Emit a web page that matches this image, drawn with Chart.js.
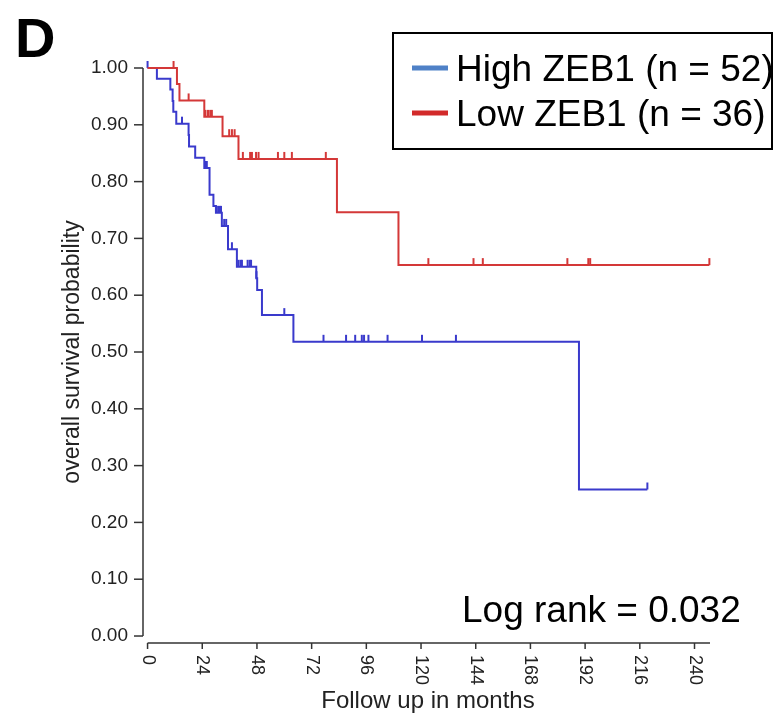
<!DOCTYPE html>
<html>
<head>
<meta charset="utf-8">
<script src="https://cdn.jsdelivr.net/npm/chart.js@4/dist/chart.umd.min.js"></script>
<style>
  body { margin: 0; background: #fff; }
  canvas { display: block; }
</style>
</head>
<body>
<canvas id="km-chart" width="777" height="715"></canvas>
<script>
// --- data ---
const xTicks = [0, 24, 48, 72, 96, 120, 144, 168, 192, 216, 240];
const yTicks = [0, 0.1, 0.2, 0.3, 0.4, 0.5, 0.6, 0.7, 0.8, 0.9, 1.0];

const highTimes = [0, 4.1, 10.0, 11.0, 11.3, 12.6, 18.0, 18.2, 20.9, 24.9, 27.2, 28.9, 30.0, 32.6, 35.3, 39.2, 47.7, 48.1, 50.2, 64.0, 189.3, 219.3];
const highSurv = [1.0, 0.981, 0.962, 0.942, 0.923, 0.902, 0.882, 0.862, 0.842, 0.824, 0.777, 0.757, 0.745, 0.722, 0.681, 0.65, 0.63, 0.609, 0.565, 0.518, 0.258, 0.258];
const highCensor = [0, 15.1, 25.2, 26.0, 30.3, 31.0, 31.6, 32.2, 33.6, 34.5, 37.0, 39.9, 40.8, 41.4, 43.9, 44.8, 45.4, 47.8, 60.0, 77.2, 87.1, 91.1, 94.0, 95.0, 96.9, 105.3, 120.4, 135.3, 219.3];

const lowTimes = [0, 12.9, 14.0, 24.9, 32.9, 39.9, 83.1, 110.1, 246.5];
const lowSurv = [1.0, 0.972, 0.943, 0.914, 0.88, 0.84, 0.746, 0.653, 0.653];
const lowCensor = [11.4, 18.0, 25.4, 26.5, 27.5, 28.2, 35.8, 37.0, 38.2, 41.8, 45.0, 45.8, 47.6, 48.7, 57.2, 60.0, 63.3, 78.2, 123.2, 143.0, 147.1, 184.2, 193.4, 194.2, 246.5];

const legendLabels = ['High ZEB1 (n = 52)', 'Low ZEB1 (n = 36)'];
const pValueText = 'Log rank = 0.032';

const BLUE = '#3a3acc';
const RED = '#d43838';
const FONT = '"Liberation Sans", Arial, sans-serif';

// step lookup so the censor ticks sit on the curve
const survAt = (times, surv, t) => {
  let s = surv[0];
  for (let i = 0; i < times.length; i++) {
    if (times[i] <= t) s = surv[i];
  }
  return s;
};

const toPoints = (xs, ys) => xs.map((x, i) => ({ x: x, y: ys[i] }));

const censorPoints = (cens, times, surv) =>
  cens.map(t => ({ x: t, y: survAt(times, surv, t) }));

// little vertical tick that stands on top of the line
const makeTick = color => {
  const c = document.createElement('canvas');
  c.width = 4;
  c.height = 16;
  const g = c.getContext('2d');
  g.fillStyle = color;
  g.fillRect(1, 1, 2, 7);
  return c;
};

const axesAndText = {
  id: 'axesAndText',
  afterDraw(chart) {
    const ctx = chart.ctx;
    const xs = chart.scales.x;
    const ys = chart.scales.y;
    const area = chart.chartArea;
    ctx.save();

    // y axis
    ctx.strokeStyle = '#333';
    ctx.lineWidth = 1.5;
    ctx.beginPath();
    ctx.moveTo(area.left, ys.getPixelForValue(1));
    ctx.lineTo(area.left, ys.getPixelForValue(0));
    ctx.stroke();
    ctx.fillStyle = '#222';
    ctx.font = '19px ' + FONT;
    ctx.textAlign = 'right';
    ctx.textBaseline = 'middle';
    yTicks.forEach(v => {
      const py = ys.getPixelForValue(v);
      ctx.beginPath();
      ctx.moveTo(area.left - 9, py);
      ctx.lineTo(area.left, py);
      ctx.stroke();
      ctx.fillText(v.toFixed(2), area.left - 15, py);
    });

    // x axis
    ctx.beginPath();
    ctx.moveTo(xs.getPixelForValue(0), area.bottom);
    ctx.lineTo(area.right, area.bottom);
    ctx.stroke();
    ctx.font = '18px ' + FONT;
    ctx.textAlign = 'left';
    xTicks.forEach(v => {
      const px = xs.getPixelForValue(v);
      ctx.beginPath();
      ctx.moveTo(px, area.bottom);
      ctx.lineTo(px, area.bottom + 6);
      ctx.stroke();
      ctx.save();
      ctx.translate(px, area.bottom + 12);
      ctx.rotate(Math.PI / 2);
      ctx.fillText(String(v), 0, 0);
      ctx.restore();
    });

    // axis titles
    ctx.fillStyle = '#222';
    ctx.font = '24px ' + FONT;
    ctx.textAlign = 'center';
    ctx.textBaseline = 'alphabetic';
    ctx.fillText('Follow up in months', 428, 708);
    ctx.save();
    ctx.translate(79, 352);
    ctx.rotate(-Math.PI / 2);
    ctx.font = '23px ' + FONT;
    ctx.fillText('overall survival probability', 0, 0);
    ctx.restore();

    // panel letter
    ctx.fillStyle = '#000';
    ctx.font = 'bold 56px ' + FONT;
    ctx.textAlign = 'left';
    ctx.fillText('D', 15, 57);

    // legend box
    ctx.strokeStyle = '#000';
    ctx.lineWidth = 2;
    ctx.strokeRect(393, 33, 379, 116);
    const swatch = ['#4f81c7', '#d22a2a'];
    const rows = [68, 113];
    ctx.font = '37px ' + FONT;
    legendLabels.forEach((lbl, i) => {
      ctx.strokeStyle = swatch[i];
      ctx.lineWidth = 5;
      ctx.beginPath();
      ctx.moveTo(412, rows[i]);
      ctx.lineTo(448, rows[i]);
      ctx.stroke();
      ctx.fillStyle = '#000';
      ctx.fillText(lbl, 456, rows[i] + 13);
    });

    // p value
    ctx.font = '37px ' + FONT;
    ctx.fillText(pValueText, 462, 622);
    ctx.restore();
  },
};

new Chart(document.getElementById('km-chart'), {
  type: 'scatter',
  data: {
    datasets: [
      {
        type: 'line',
        data: toPoints(lowTimes, lowSurv),
        borderColor: RED,
        borderWidth: 2,
        stepped: true,
        pointRadius: 0,
        clip: false,
      },
      {
        data: censorPoints(lowCensor, lowTimes, lowSurv),
        pointStyle: makeTick(RED),
        pointRadius: 4,
        clip: false,
      },
      {
        type: 'line',
        data: toPoints(highTimes, highSurv),
        borderColor: BLUE,
        borderWidth: 2,
        stepped: true,
        pointRadius: 0,
        clip: false,
      },
      {
        data: censorPoints(highCensor, highTimes, highSurv),
        pointStyle: makeTick(BLUE),
        pointRadius: 4,
        clip: false,
      },
    ],
  },
  options: {
    responsive: false,
    animation: false,
    devicePixelRatio: 1,
    layout: {
      padding: { left: 143, right: 67, top: 68, bottom: 72 },
    },
    scales: {
      x: { type: 'linear', min: -2, max: 246.8, display: false },
      y: { type: 'linear', min: -0.0123, max: 1.0, display: false },
    },
    plugins: {
      legend: { display: false },
      tooltip: { enabled: false },
    },
  },
  plugins: [axesAndText],
});
</script>
</body>
</html>
